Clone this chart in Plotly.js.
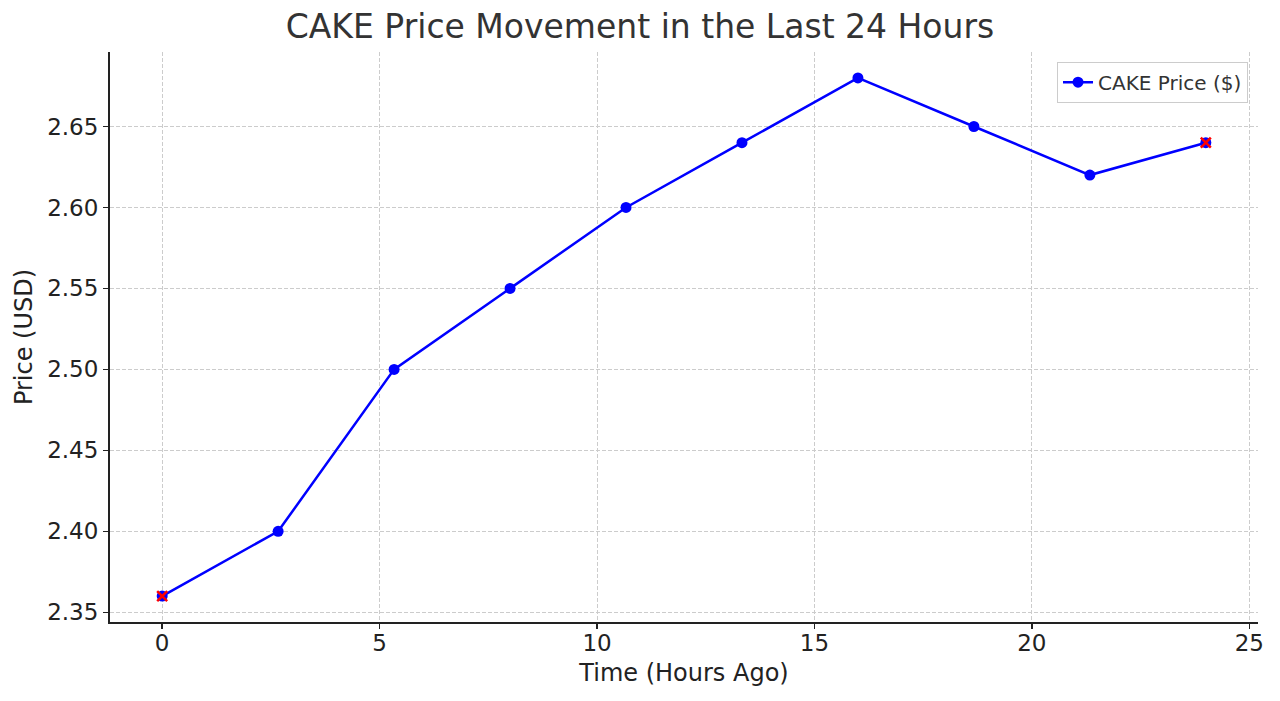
<!DOCTYPE html>
<html>
<head>
<meta charset="utf-8">
<script src="https://cdn.plot.ly/plotly-3.0.1.min.js"></script>
<style>html,body{margin:0;padding:0;background:#fff;}#chart{width:1280px;height:701px;}</style>
</head>
<body>
<div id="chart"></div>
<script>
const hoursAgo = [0, 2.6667, 5.3333, 8, 10.6667, 13.3333, 16, 18.6667, 21.3333, 24];
const priceUSD = [2.36, 2.40, 2.50, 2.55, 2.60, 2.64, 2.68, 2.65, 2.62, 2.64];
const highlightX = [0, 24];
const highlightY = [2.36, 2.64];
const xTicks = [0, 5, 10, 15, 20, 25];
const yTicks = [2.35, 2.40, 2.45, 2.50, 2.55, 2.60, 2.65];

const font = 'DejaVu Sans, sans-serif';
const traces = [
  {
    x: hoursAgo, y: priceUSD, type: 'scatter', mode: 'lines+markers',
    name: 'CAKE Price ($)',
    line: {color: '#0000ff', width: 2.5},
    marker: {color: '#0000ff', size: 11, symbol: 'circle'}
  },
  {
    x: highlightX, y: highlightY, type: 'scatter', mode: 'markers',
    showlegend: false,
    marker: {color: '#ff0000', size: 10, symbol: 'x-thin', line: {color: '#ff0000', width: 2.5}}
  }
];
const layout = {
  width: 1280, height: 701,
  margin: {l: 110, r: 22, t: 52, b: 79},
  paper_bgcolor: '#fff', plot_bgcolor: '#fff',
  font: {family: font, color: '#222', size: 23},
  title: {text: 'CAKE Price Movement in the Last 24 Hours', font: {family: font, size: 33, color: '#333'}, x: 0.5, xanchor: 'center', y: 0.979, yanchor: 'top'},
  xaxis: {
    range: [-1.2, 25.2], tickvals: xTicks, ticktext: xTicks.map(String),
    showgrid: true, gridcolor: '#cccccc', griddash: '4px,2px', gridwidth: 1,
    showline: true, linecolor: '#222', linewidth: 2, mirror: false,
    ticks: 'outside', ticklen: 5, tickcolor: '#222', tickwidth: 1.5,
    ticklabelstandoff: -6,
    zeroline: false, tickfont: {size: 23, color: '#222'},
    title: {text: 'Time (Hours Ago)', font: {size: 24, color: '#222'}, standoff: 10}
  },
  yaxis: {
    range: [2.344, 2.696], tickvals: yTicks, ticktext: yTicks.map(v => v.toFixed(2)),
    showgrid: true, gridcolor: '#cccccc', griddash: '4px,2px', gridwidth: 1,
    showline: true, linecolor: '#222', linewidth: 2, mirror: false,
    ticks: 'outside', ticklen: 5, tickcolor: '#222', tickwidth: 1.5,
    zeroline: false, tickfont: {size: 23, color: '#222'},
    title: {text: 'Price (USD)', font: {size: 24, color: '#222'}, standoff: 8}
  },
  legend: {
    x: 0.9913, y: 0.983, xanchor: 'right', yanchor: 'top',
    bgcolor: 'rgba(255,255,255,0.8)', bordercolor: '#cccccc', borderwidth: 1,
    font: {size: 20, color: '#333'}
  },
  showlegend: true
};
Plotly.newPlot('chart', traces, layout, {displayModeBar: false, staticPlot: true});
</script>
</body>
</html>
